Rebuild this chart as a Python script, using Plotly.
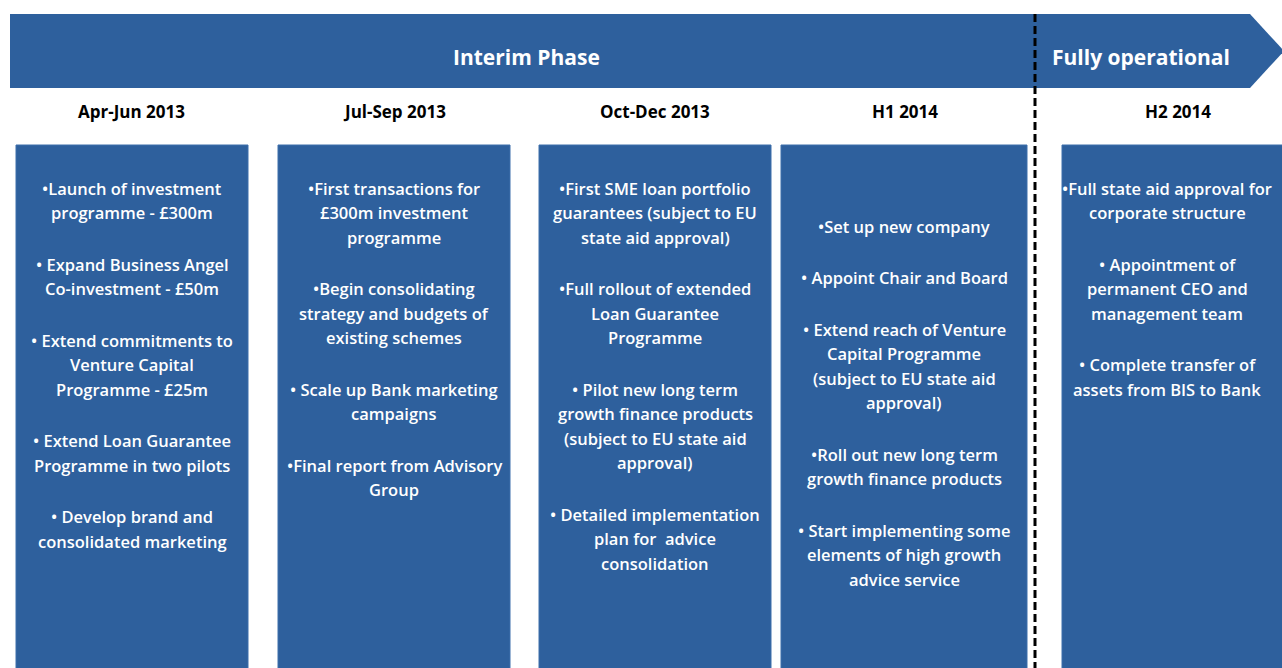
import plotly.graph_objects as go

# ---- data -------------------------------------------------------------
phases = ["Interim Phase", "Fully operational"]
periods = ["Apr-Jun 2013", "Jul-Sep 2013", "Oct-Dec 2013", "H1 2014", "H2 2014"]

apr_jun_2013 = [
    ["•Launch of investment", "programme - £300m"],
    ["• Expand Business Angel", "Co-investment - £50m"],
    ["• Extend commitments to", "Venture Capital", "Programme - £25m"],
    ["• Extend Loan Guarantee", "Programme in two pilots"],
    ["• Develop brand and", "consolidated marketing"],
]
jul_sep_2013 = [
    ["•First transactions for", "£300m investment", "programme"],
    ["•Begin consolidating", "strategy and budgets of", "existing schemes"],
    ["• Scale up Bank marketing", "campaigns"],
    ["•Final report from Advisory", "Group"],
]
oct_dec_2013 = [
    ["•First SME loan portfolio", "guarantees (subject to EU", "state aid approval)"],
    ["•Full rollout of extended", "Loan Guarantee", "Programme"],
    ["• Pilot new long term", "growth finance products", "(subject to EU state aid", "approval)"],
    ["• Detailed implementation", "plan for  advice", "consolidation"],
]
h1_2014 = [
    ["•Set up new company"],
    ["• Appoint Chair and Board"],
    ["• Extend reach of Venture", "Capital Programme", "(subject to EU state aid", "approval)"],
    ["•Roll out new long term", "growth finance products"],
    ["• Start implementing some", "elements of high growth", "advice service"],
]
h2_2014 = [
    ["•Full state aid approval for", "corporate structure"],
    ["• Appointment of", "permanent CEO and", "management team"],
    ["• Complete transfer of", "assets from BIS to Bank"],
]
milestones = [apr_jun_2013, jul_sep_2013, oct_dec_2013, h1_2014, h2_2014]

# ---- layout (pixel space) ---------------------------------------------
W, H = 1282, 668
BLUE = "#2E609D"
FONT = "Open Sans"

box_left = [16, 278, 539, 781, 1062]
box_right = [248, 510, 771, 1027, 1300]
text_x = [132, 394, 655, 904, 1167]
header_x = [131, 394, 655, 905, 1178]
first_line_y = [188, 188, 188, 226, 188]
line_step = 24.5
bullet_gap = 51.5
divider_x = 1035

shapes = []
annotations = []

# banner arrow
shapes.append(dict(type="path", path="M 10,14 L 1250,14 L 1284,51 L 1250,88 L 10,88 Z",
                   fillcolor=BLUE, line=dict(width=0), layer="below"))
annotations.append(dict(x=526, y=57, text="<b>" + phases[0] + "</b>", showarrow=False,
                        font=dict(family=FONT, size=21, color="white")))
annotations.append(dict(x=1141, y=57, text="<b>" + phases[1] + "</b>", showarrow=False,
                        font=dict(family=FONT, size=21, color="white")))

for i, period in enumerate(periods):
    shapes.append(dict(type="rect", x0=box_left[i], x1=box_right[i], y0=145, y1=H + 5,
                       fillcolor=BLUE, line=dict(color="#3D6FAB", width=1), layer="below"))
    annotations.append(dict(x=header_x[i], y=111, text="<b>" + period + "</b>", showarrow=False,
                            font=dict(family=FONT, size=17, color="black")))
    y = first_line_y[i]
    for bullet in milestones[i]:
        for k, line in enumerate(bullet):
            annotations.append(dict(x=text_x[i], y=y + k * line_step, text=line, showarrow=False,
                                    font=dict(family=FONT, size=16.5, color="white", weight=600)))
        y += (len(bullet) - 1) * line_step + bullet_gap

# phase divider
shapes.append(dict(type="line", x0=divider_x, x1=divider_x, y0=14, y1=H + 5,
                   line=dict(color="black", width=3, dash="8px,4px"), layer="above"))

fig = go.Figure()
fig.update_layout(
    width=W, height=H, margin=dict(l=0, r=0, t=0, b=0),
    paper_bgcolor="white", plot_bgcolor="white",
    xaxis=dict(range=[0, W], visible=False, fixedrange=True),
    yaxis=dict(range=[H, 0], visible=False, fixedrange=True),
    shapes=shapes, annotations=annotations, showlegend=False,
)
# drop the default 8px body margin so the figure fills the window
fig.write_html("out.html", config={"displayModeBar": False},
               post_script="document.body.style.margin='0px';")
